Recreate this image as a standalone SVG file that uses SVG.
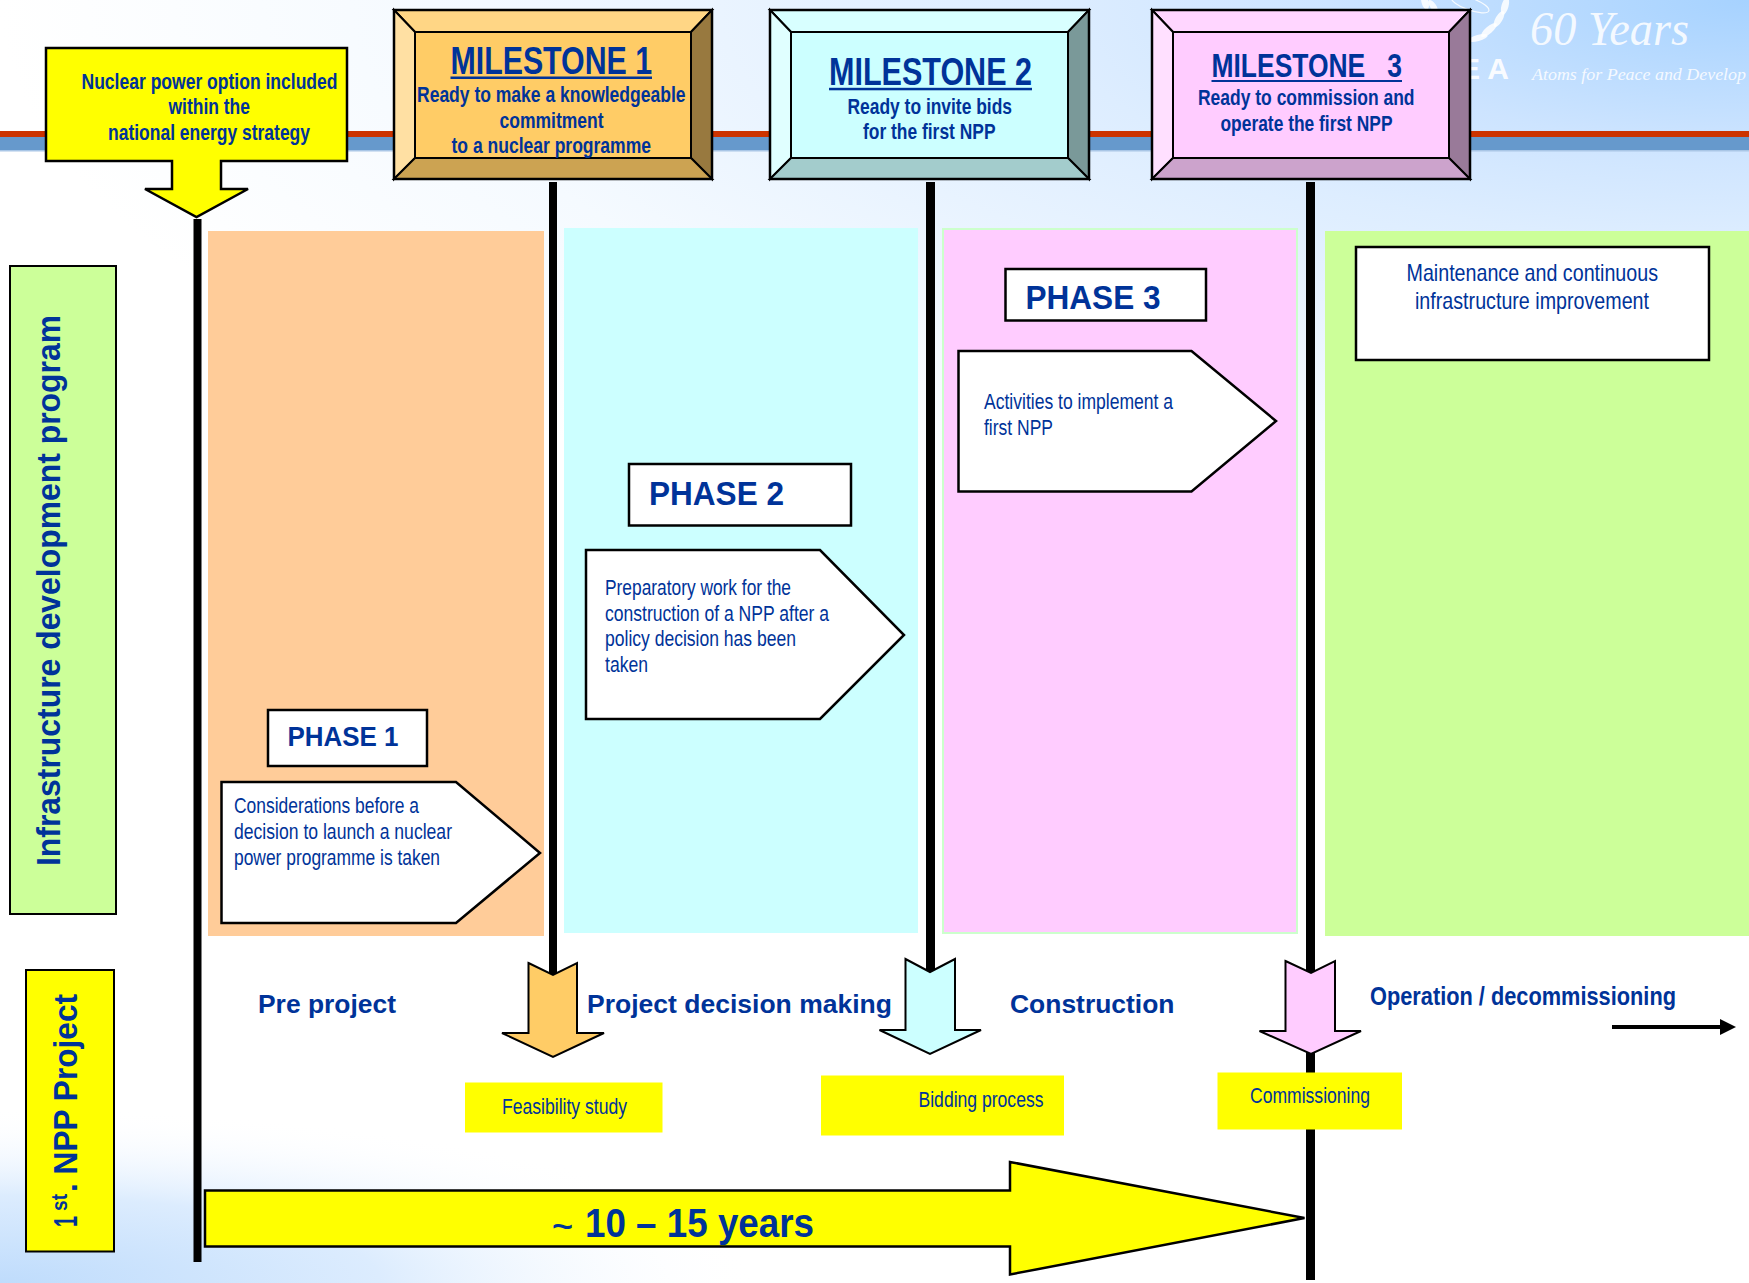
<svg xmlns="http://www.w3.org/2000/svg" width="1749" height="1283" viewBox="0 0 1749 1283">
<style>
text{font-family:"Liberation Sans",Arial,sans-serif;fill:#003399;white-space:pre}
.b{font-weight:700}
.m{font-size:38px;font-weight:700;text-anchor:start}
.s{font-size:22px;font-weight:700}
.p{font-size:22px}
.h{font-size:33px;font-weight:700}
.t{font-size:26px;font-weight:700}
.box{stroke:#000;stroke-width:2.5}
.thin{stroke:#000;stroke-width:2}
.bev{stroke:#000;stroke-width:2;stroke-linejoin:miter}
.w{fill:#fff;opacity:.85}
.serif{font-family:"Liberation Serif","Times New Roman",serif;font-style:italic;fill:#fff;opacity:.85}
.ul{fill:#003399}
</style>
<defs>
<radialGradient id="tr" gradientUnits="userSpaceOnUse" cx="0" cy="0" r="1" gradientTransform="translate(1749 0) scale(1750 600)">
<stop offset="0" stop-color="#A6D2FF"/><stop offset=".24" stop-color="#CDE4FF"/><stop offset=".4" stop-color="#DDEDFF"/><stop offset=".75" stop-color="#F5FAFF"/><stop offset="1" stop-color="#FFFFFF"/>
</radialGradient>
<radialGradient id="bl" gradientUnits="userSpaceOnUse" cx="0" cy="0" r="1" gradientTransform="translate(0 1283) scale(760 175)">
<stop offset="0" stop-color="#BFDCFC"/><stop offset=".5" stop-color="#DCECFE"/><stop offset="1" stop-color="#FFFFFF" stop-opacity="0"/>
</radialGradient>
</defs>

<g id="background">
<rect width="1749" height="1283" fill="url(#tr)"/>
<rect width="1749" height="1283" fill="url(#bl)"/>
<rect y="137" width="1749" height="13" fill="#6699CC"/>
<rect y="150" width="1749" height="1.5" fill="#A9C6E6"/>
<rect y="131" width="1749" height="6" fill="#CC3300"/>
</g>

<g id="emblem">
<ellipse class="w" cx="1425" cy="2" rx="3.5" ry="8" transform="rotate(-15 1425 2)"/>
<ellipse class="w" cx="1433" cy="6" rx="3" ry="7" transform="rotate(-35 1433 6)"/>
<ellipse cx="1470" cy="4" rx="20" ry="6" fill="none" stroke="#fff" stroke-width="1.2" opacity=".85" transform="rotate(20 1470 4)"/>
<ellipse class="w" cx="1505" cy="6" rx="3.5" ry="9" transform="rotate(15 1505 6)"/>
<ellipse class="w" cx="1499" cy="19" rx="3.5" ry="9" transform="rotate(30 1499 19)"/>
<ellipse class="w" cx="1489" cy="30" rx="3.5" ry="10" transform="rotate(50 1489 30)"/>
<ellipse class="w" cx="1478" cy="38" rx="3" ry="10" transform="rotate(75 1478 38)"/>
<text class="b" x="1460" y="79" font-size="30" style="fill:#fff;opacity:.9" textLength="49" lengthAdjust="spacing">EA</text>
<text class="serif" x="1530" y="45" font-size="48" textLength="159" lengthAdjust="spacingAndGlyphs">60 Years</text>
<text class="serif" x="1532" y="80" font-size="17.500" textLength="214" lengthAdjust="spacingAndGlyphs">Atoms for Peace and Develop</text>
</g>

<g id="phase-panels">
<rect id="panel-1" x="208" y="231" width="336" height="705" fill="#FFCC99"/>
<rect id="panel-2" x="564" y="228" width="354" height="705" fill="#CCFFFF"/>
<rect id="panel-3" x="943" y="229" width="354" height="704" fill="#FFCCFF" stroke="#CCFFCC" stroke-width="2"/>
<rect id="panel-4" x="1325" y="231" width="424" height="705" fill="#CCFF99"/>
</g>

<g id="connectors" fill="#000">
<rect x="193.5" y="219" width="8" height="1043"/>
<rect x="549" y="182" width="8" height="792"/>
<rect x="926" y="182" width="9" height="790"/>
<rect x="1306" y="182" width="9" height="1098"/>
<rect x="1612" y="1025" width="108" height="4"/>
<polygon points="1736,1027 1720,1019 1720,1035"/>
</g>

<g id="infrastructure-label">
<rect class="thin" x="10" y="266" width="106" height="648" fill="#CCFF99"/>
<text class="b" font-size="33" transform="translate(60 866) rotate(-90)" textLength="551" lengthAdjust="spacingAndGlyphs">Infrastructure development program</text>
</g>

<g id="npp-label">
<rect class="thin" x="26" y="970" width="88" height="281.500" fill="#FFFF00"/>
<g transform="translate(77 1227) rotate(-90)">
<text class="b" font-size="33" x="0" y="0" textLength="11" lengthAdjust="spacingAndGlyphs">1</text>
<text class="b" font-size="22" x="16" y="-10" textLength="17" lengthAdjust="spacingAndGlyphs">st</text>
<text class="b" font-size="33" x="35" y="0" textLength="198" lengthAdjust="spacingAndGlyphs">. NPP Project</text>
</g>
</g>

<g id="strategy-callout">
<polygon class="box" points="46,48 347,48 347,161 221,161 221,189 248,189 196.5,217 145,189 172,189 172,161 46,161" fill="#FFFF00"/>
<text class="s" x="81.500" y="88.500" textLength="256" lengthAdjust="spacingAndGlyphs">Nuclear power option included</text>
<text class="s" x="168.500" y="114" textLength="81.500" lengthAdjust="spacingAndGlyphs">within the</text>
<text class="s" x="108" y="139.500" textLength="202" lengthAdjust="spacingAndGlyphs">national energy strategy</text>
</g>

<g id="milestone-1">
<rect x="394" y="10" width="318" height="169" fill="#FFCC66"/>
<polygon class="bev" points="394,10 712,10 691,32 415,32" fill="#FFD685"/>
<polygon class="bev" points="394,10 415,32 415,158 394,179" fill="#FFE0A3"/>
<polygon class="bev" points="712,10 712,179 691,158 691,32" fill="#98793F"/>
<polygon class="bev" points="394,179 415,158 691,158 712,179" fill="#CCA352"/>
<rect class="box" x="394" y="10" width="318" height="169" fill="none"/>
<text class="m" x="450.500" y="73.500" textLength="201.500" lengthAdjust="spacingAndGlyphs">MILESTONE 1</text>
<rect class="ul" x="450.500" y="76.500" width="201.500" height="2.500"/>
<text class="s" x="417" y="102" textLength="268.500" lengthAdjust="spacingAndGlyphs">Ready to make a knowledgeable</text>
<text class="s" x="499.500" y="128" textLength="104" lengthAdjust="spacingAndGlyphs">commitment</text>
<text class="s" x="451.500" y="153" textLength="199.500" lengthAdjust="spacingAndGlyphs">to a nuclear programme</text>
</g>

<g id="milestone-2">
<rect x="770" y="10" width="319" height="169" fill="#CCFFFF"/>
<polygon class="bev" points="770,10 1089,10 1068,32 791,32" fill="#D8FFFF"/>
<polygon class="bev" points="770,10 791,32 791,158 770,179" fill="#E0FFFF"/>
<polygon class="bev" points="1089,10 1089,179 1068,158 1068,32" fill="#7A9999"/>
<polygon class="bev" points="770,179 791,158 1068,158 1089,179" fill="#A3CCCC"/>
<rect class="box" x="770" y="10" width="319" height="169" fill="none"/>
<text class="m" x="829" y="84.800" textLength="203" lengthAdjust="spacingAndGlyphs">MILESTONE 2</text>
<rect class="ul" x="829" y="87.800" width="203" height="2.500"/>
<text class="s" x="847.500" y="114" textLength="164.500" lengthAdjust="spacingAndGlyphs">Ready to invite bids</text>
<text class="s" x="863" y="138.500" textLength="132.500" lengthAdjust="spacingAndGlyphs">for the first NPP</text>
</g>

<g id="milestone-3">
<rect x="1152" y="10" width="318" height="169" fill="#FFCCFF"/>
<polygon class="bev" points="1152,10 1470,10 1449,32 1173,32" fill="#FFD6FF"/>
<polygon class="bev" points="1152,10 1173,32 1173,158 1152,179" fill="#FFE0FF"/>
<polygon class="bev" points="1470,10 1470,179 1449,158 1449,32" fill="#997A99"/>
<polygon class="bev" points="1152,179 1173,158 1449,158 1470,179" fill="#CCA3CC"/>
<rect class="box" x="1152" y="10" width="318" height="169" fill="none"/>
<text class="b" font-size="34" x="1211.500" y="76.700" textLength="190.500" lengthAdjust="spacingAndGlyphs">MILESTONE   3</text>
<rect class="ul" x="1211.500" y="80" width="190.500" height="2"/>
<text class="s" x="1198" y="105" textLength="216.500" lengthAdjust="spacingAndGlyphs">Ready to commission and</text>
<text class="s" x="1220.500" y="130.700" textLength="172" lengthAdjust="spacingAndGlyphs">operate the first NPP</text>
</g>

<g id="phase-1">
<rect class="box" x="268" y="710" width="159" height="56" fill="#fff"/>
<text class="b" font-size="27" x="287.500" y="746" textLength="111" lengthAdjust="spacingAndGlyphs">PHASE 1</text>
<polygon class="box" points="221.500,782 456,782 540,853 456,923 221.500,923" fill="#fff"/>
<text class="p" x="234" y="813" textLength="185" lengthAdjust="spacingAndGlyphs">Considerations before a</text>
<text class="p" x="234" y="839" textLength="218" lengthAdjust="spacingAndGlyphs">decision to launch a nuclear</text>
<text class="p" x="234" y="865" textLength="206" lengthAdjust="spacingAndGlyphs">power programme is taken</text>
</g>

<g id="phase-2">
<rect class="box" x="629" y="464" width="222" height="61.500" fill="#fff"/>
<text class="h" x="649" y="504.500" textLength="135" lengthAdjust="spacingAndGlyphs">PHASE 2</text>
<polygon class="box" points="586,550 820,550 904,635 820,719 586,719" fill="#fff"/>
<text class="p" x="605" y="594.500" textLength="186" lengthAdjust="spacingAndGlyphs">Preparatory work for the</text>
<text class="p" x="605" y="620.500" textLength="224" lengthAdjust="spacingAndGlyphs">construction of a NPP after a</text>
<text class="p" x="605" y="645.500" textLength="191" lengthAdjust="spacingAndGlyphs">policy decision has been</text>
<text class="p" x="605" y="671.500" textLength="43" lengthAdjust="spacingAndGlyphs">taken</text>
</g>

<g id="phase-3">
<rect class="box" x="1005.500" y="269" width="200.500" height="51.500" fill="#fff"/>
<text class="h" x="1025.500" y="308.500" textLength="135" lengthAdjust="spacingAndGlyphs">PHASE 3</text>
<polygon class="box" points="958.500,351 1191.500,351 1276,421 1191.500,491.500 958.500,491.500" fill="#fff"/>
<text class="p" x="984" y="408.500" textLength="189" lengthAdjust="spacingAndGlyphs">Activities to implement a</text>
<text class="p" x="984" y="434.500" textLength="69" lengthAdjust="spacingAndGlyphs">first NPP</text>
</g>

<g id="maintenance">
<rect class="box" x="1356" y="247" width="353" height="113" fill="#fff"/>
<text style="font-size:24px" x="1406.500" y="281" textLength="251.500" lengthAdjust="spacingAndGlyphs">Maintenance and continuous</text>
<text style="font-size:24px" x="1415" y="309" textLength="234" lengthAdjust="spacingAndGlyphs">infrastructure improvement</text>
</g>

<g id="stage-labels">
<text class="t" x="258" y="1013" textLength="138" lengthAdjust="spacingAndGlyphs">Pre project</text>
<text class="t" x="587" y="1013" textLength="305" lengthAdjust="spacingAndGlyphs">Project decision making</text>
<text class="t" x="1010" y="1013" textLength="164.500" lengthAdjust="spacingAndGlyphs">Construction</text>
<text class="t" x="1370" y="1005" textLength="306" lengthAdjust="spacingAndGlyphs">Operation / decommissioning</text>
</g>

<g id="arrow-milestone-1"><polygon class="thin" points="528.500,963 553,975 577,963 577,1033 604,1033 553,1057 502,1033 528.500,1033" fill="#FFCC66"/></g>
<g id="arrow-milestone-2"><polygon class="thin" points="905.500,959 930,972 955,959 955,1030 981,1030 930,1054 879.500,1030 905.500,1030" fill="#CCFFFF"/></g>
<g id="arrow-milestone-3"><polygon class="thin" points="1285.500,961 1311,973 1335,961 1335,1031 1361,1031 1311,1054 1259.500,1031 1285.500,1031" fill="#FFCCFF"/></g>

<g id="feasibility-study">
<rect x="465" y="1082.500" width="197.500" height="50" fill="#FFFF00"/>
<text class="p" x="502" y="1113.500" textLength="125" lengthAdjust="spacingAndGlyphs">Feasibility study</text>
</g>
<g id="bidding-process">
<rect x="821" y="1075.500" width="243" height="60" fill="#FFFF00"/>
<text class="p" x="918.500" y="1106.500" textLength="125" lengthAdjust="spacingAndGlyphs">Bidding process</text>
</g>
<g id="commissioning">
<rect x="1217.500" y="1072.500" width="184.500" height="57" fill="#FFFF00"/>
<text class="p" x="1250" y="1103" textLength="120" lengthAdjust="spacingAndGlyphs">Commissioning</text>
</g>

<g id="duration-arrow">
<polygon class="box" points="205,1190.500 1010,1190.500 1010,1162 1304.500,1218 1010,1274.500 1010,1246.500 205,1246.500" fill="#FFFF00"/>
<text class="b" font-size="30" x="552" y="1236.500" textLength="21" lengthAdjust="spacingAndGlyphs">~</text>
<text class="b" font-size="40" x="585" y="1236.500" textLength="229" lengthAdjust="spacingAndGlyphs">10 – 15 years</text>
</g>
</svg>
